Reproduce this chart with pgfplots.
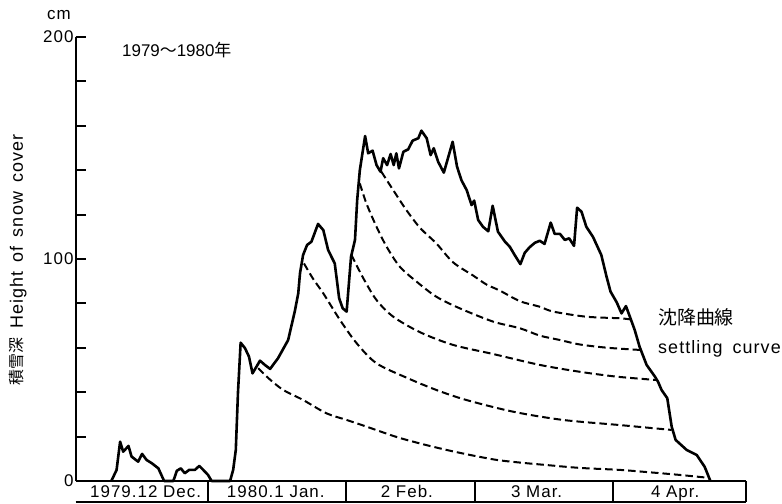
\documentclass[border=0pt]{standalone}
\usepackage{fontspec}
\setmainfont{Liberation Sans}
\newfontfamily\spaced[LetterSpace=6]{Liberation Sans}
\newfontfamily\jp{Noto Sans CJK JP}
\usepackage{pgfplots}
\pgfplotsset{compat=1.18}

% snow depth (cm) against days counted from 1 Dec 1979
\pgfplotstableread{
day depth
8.1 0
9.3 5
10.1 17.7
10.8 13.2
12.0 15.8
12.7 11
14.2 8.7
15.1 12.2
16.1 9.5
17.3 8
18.8 5.7
20.1 0
22.2 0
23.0 4.6
23.9 5.7
24.8 3.5
25.8 5
27.1 5
28.1 6.8
29.0 5
30.1 2.7
30.9 0
35.1 0
35.8 5
36.4 14
36.9 40
37.5 62.3
38.5 59.8
39.4 56
40.2 48.5
41.1 51.5
41.9 54.2
43.0 52.3
44.2 50.5
46.0 55.3
48.3 63.5
49.8 76.3
50.6 84.5
51.0 93.6
51.7 101.8
52.6 106.3
53.6 107.8
55.1 115.8
56.3 113
57.4 104
58.9 98
59.9 82.3
60.7 77.8
61.6 76.3
62.6 101
63.5 108.6
64.0 126.6
64.6 140
65.8 155.4
66.5 147.6
67.5 148.8
68.4 142.3
69.3 139.3
69.9 145.4
70.8 142.3
71.6 147.3
72.3 142.3
72.9 147.6
73.5 140.8
74.5 148.3
75.6 149.4
76.6 153.3
77.9 154.4
78.6 157.8
79.8 154.4
80.7 146.8
81.4 149.9
82.4 143.8
83.7 138.9
85.7 152.8
86.7 141.6
87.7 135.5
88.9 131
90.0 124.3
90.6 126.3
91.5 117.6
92.6 114.5
93.8 112.5
94.8 124
96.0 112.3
97.6 107.8
98.7 105.5
99.8 101.8
101.1 97.7
102.1 102.8
103.2 105.3
104.4 107.3
105.5 108.2
106.6 106.8
108.0 116.4
108.9 111.3
110.1 111.3
111.2 108.6
112.2 109.3
113.3 105.9
114.0 123.1
115.0 121.3
116.1 114.5
117.6 110
119.5 101.8
120.7 92
121.6 85.3
123.0 80.5
124.1 75.5
125.1 78.8
126.0 74
127.1 68
128.2 60.5
129.8 52.3
131.7 47
132.4 44.7
133.2 41
134.5 37.3
135.5 24.5
136.4 18.5
138.9 14
141.2 11.7
143.0 6.4
144.3 0
}\depth

% settling curves of individual snow layers
\pgfplotstableread{
day depth
41.5 50.8
44 46
47.2 41
51.7 36.5
57 30.5
61.6 27.5
66.1 24.5
73 19.8
78.5 16.8
84.3 14
90 11.6
95.7 9.5
101 8.3
107 7.2
114.6 5.9
123.7 5
130 4
137 2.8
144.0 1.4
}\settleA

\pgfplotstableread{
day depth
51.9 98
54 91
56.3 84.5
60.1 72.5
63.9 62
68.4 53
75.5 46.3
82 41
88.8 36.5
99.5 31.2
110.8 27.5
123.7 25.2
135.5 23
}\settleB

\pgfplotstableread{
day depth
62.7 101.8
65.4 91.3
68.4 81.5
72.2 74
78.3 67
85.8 61.3
94.9 57.2
105.5 52.3
114.6 49.2
123 47
132 45.5
}\settleC

\pgfplotstableread{
day depth
64.6 134
66.1 125
68.4 114.5
70.7 105.5
73.7 96.5
77.5 89.8
82 83
87.3 77.8
94.9 71.8
101 68.8
105.5 65.5
110.1 63.5
114.6 61.5
121 60
128.6 59
}\settleD

\pgfplotstableread{
day depth
69.5 139.3
72.2 131
75.2 122
78.3 114
82 107
85.8 98.5
90.4 92.5
93.4 88.5
96.4 85.8
101 81
105.5 78.5
108.6 76.3
116.1 74
123.7 73.3
126 72.8
}\settleE

\begin{document}
\begin{tikzpicture}[
  monthline/.style={line width=1.8bp},
  monthlabel/.style={anchor=base, font=\spaced\fontsize{17}{17}\selectfont, inner sep=0pt},
]
\path[use as bounding box] (-75.7bp,-23bp) rectangle (706.3bp,481bp);
\begin{axis}[
  scale only axis,
  width=670.3bp, height=444bp,
  xmin=0, xmax=152.4, ymin=0, ymax=200,
  axis x line=bottom, axis y line=left,
  axis line style={line width=2bp, -},
  xtick=\empty,
  ytick={0,20,...,200},
  yticklabels={0,,,,,100,,,,,200},
  tick align=inside,
  major tick length=10bp,
  tick style={line width=2bp, black},
  yticklabel style={font=\spaced\fontsize{17}{17}\selectfont, inner sep=2bp},
  /pgf/number format/assume math mode=true,
  clip=false,
  settle/.style={black, line width=2bp, dash pattern=on 7.5bp off 4bp, smooth},
]
\addplot[black, line width=2.6bp, line join=round] table {\depth};
\addplot[settle] table {\settleA};
\addplot[settle] table {\settleB};
\addplot[settle] table {\settleC};
\addplot[settle] table {\settleD};
\addplot[settle] table {\settleE};

% month boxes under the time axis
\draw[monthline] ([yshift=-20.7bp]axis cs:0,0) -- ([yshift=-20.7bp]axis cs:152.4,0);
\draw[monthline] (axis cs:30.0,0) -- ([yshift=-20.7bp]axis cs:30.0,0);
\draw[monthline] (axis cs:61.46,0) -- ([yshift=-20.7bp]axis cs:61.46,0);
\draw[monthline] (axis cs:90.79,0) -- ([yshift=-20.7bp]axis cs:90.79,0);
\draw[monthline] (axis cs:122.1,0) -- ([yshift=-20.7bp]axis cs:122.1,0);
\draw[monthline] (axis cs:152.4,0) -- ([yshift=-20.7bp]axis cs:152.4,0);
\node[monthlabel] at ([yshift=-16bp]axis cs:15.9,0) {1979.12 Dec.};
\node[monthlabel] at ([yshift=-16bp]axis cs:45.5,0) {1980.1 Jan.};
\node[monthlabel] at ([yshift=-16bp]axis cs:75.3,0) {2 Feb.};
\node[monthlabel] at ([yshift=-16bp]axis cs:104.8,0) {3 Mar.};
\node[monthlabel] at ([yshift=-16bp]axis cs:136.3,0) {4 Apr.};
\end{axis}

\node[anchor=base, font=\spaced\fontsize{17}{17}\selectfont, inner sep=0pt] at (-16.7bp,461bp) {cm};
\node[anchor=base west, font=\fontsize{17}{17}\selectfont, inner sep=0pt] at (46.3bp,424.3bp) {1979{\jp ～}1980{\jp 年}};
\node[rotate=90, inner sep=0pt] at (-57.7bp,221bp) {{\jp\fontsize{16}{16}\selectfont 積雪深}\hspace{9bp}{\spaced\fontsize{18}{18}\selectfont Height\hspace{3bp} of\hspace{3bp} snow\hspace{3bp} cover}};
\node[anchor=base west, font=\fontsize{19}{19}\selectfont, inner sep=0pt] at (582.3bp,156bp) {\jp 沈降曲線};
\node[anchor=base west, font=\spaced\fontsize{18}{18}\selectfont, inner sep=0pt] at (582.3bp,127bp) {settling\hspace{4bp} curve};
\end{tikzpicture}
\end{document}
